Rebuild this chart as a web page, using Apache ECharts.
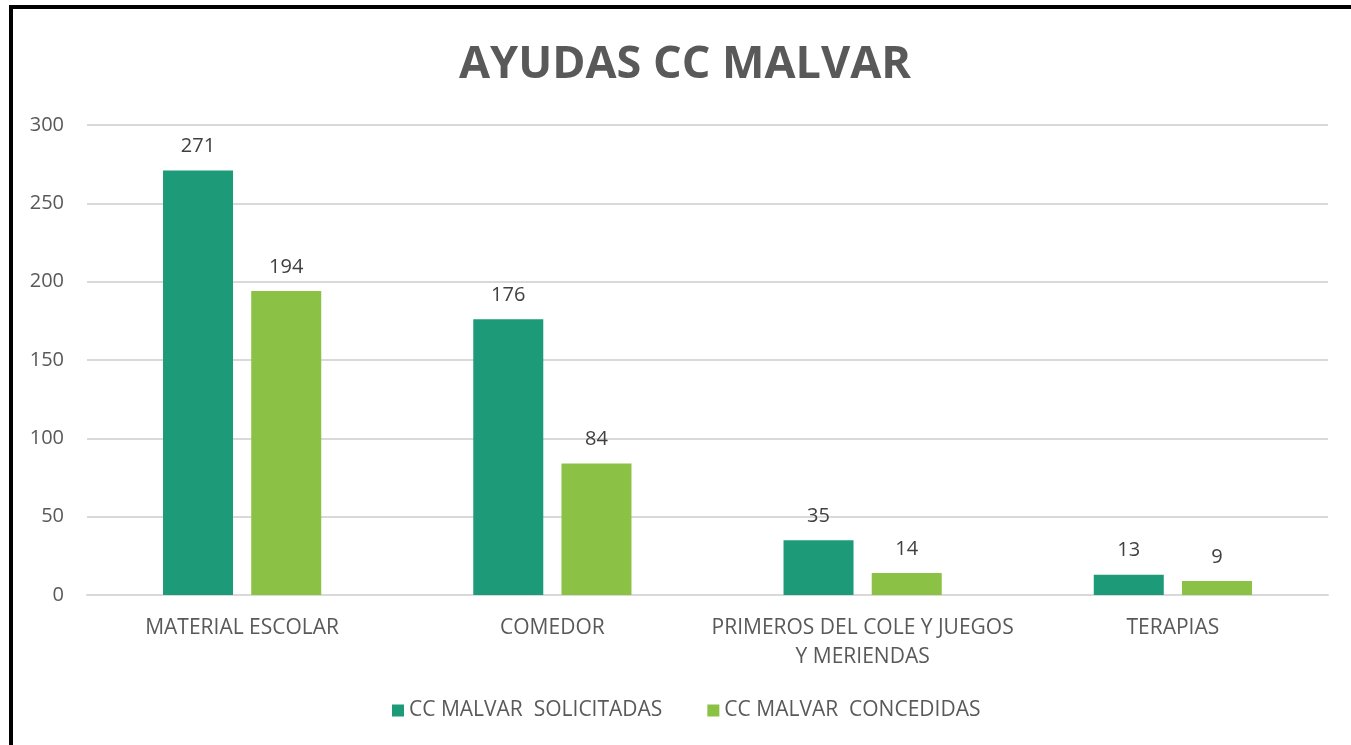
<!DOCTYPE html>
<html>
<head>
<meta charset="utf-8">
<script src="https://cdn.jsdelivr.net/npm/echarts@6/dist/echarts.min.js"></script>
<style>
  html, body { margin: 0; padding: 0; background: #fff; }
  #chart { width: 1351px; height: 745px; }
</style>
</head>
<body>
<div id="chart"></div>
<script>
    // datos de la gráfica
    const categorias = ['MATERIAL ESCOLAR', 'COMEDOR', 'PRIMEROS DEL COLE Y JUEGOS Y MERIENDAS', 'TERAPIAS'];
    const solicitadas = [271, 176, 35, 13];
    const concedidas = [194, 84, 14, 9];
    const nombres = ['CC MALVAR  SOLICITADAS', 'CC MALVAR  CONCEDIDAS'];

    let chart = echarts.init(document.getElementById('chart'));

    const fuente = 'Open Sans';

    let option = {
        textStyle: { fontFamily: fuente },
        // marco negro (solo arriba e izquierda se ven en el original)
        graphic: [{
            type: 'rect',
            shape: { x: 11, y: 7, width: 1400, height: 800 },
            style: { fill: 'none', stroke: '#000', lineWidth: 4 },
            silent: true
        }],
        title: {
            text: 'AYUDAS CC MALVAR',
            left: 454,
            top: 38,
            textStyle: { fontFamily: fuente, fontSize: 45, fontWeight: 'bold', color: '#595959' }
        },
        legend: {
            bottom: 19,
            left: 387,
            itemWidth: 12,
            itemHeight: 12,
            itemGap: 45,
            icon: 'rect',
            textStyle: { fontFamily: fuente, fontSize: 21, color: '#595959' },
            data: nombres
        },
        grid: { left: 87, right: 23, top: 125, bottom: 150 },
        xAxis: {
            type: 'category',
            data: categorias,
            axisLine: { lineStyle: { color: '#d9d9d9', width: 2 } },
            axisTick: { show: false },
            axisLabel: {
                color: '#595959',
                fontSize: 21,
                margin: 19,
                lineHeight: 29,
                interval: 0,
                formatter: function (v) { return v.replace(' Y MERIENDAS', '\nY MERIENDAS'); }
            }
        },
        yAxis: {
            type: 'value',
            min: 0,
            max: 300,
            interval: 50,
            axisLine: { show: false },
            axisTick: { show: false },
            axisLabel: { color: '#595959', fontSize: 20, margin: 23 },
            splitLine: { lineStyle: { color: '#d9d9d9', width: 2 } }
        },
        series: [{
            name: nombres[0],
            type: 'bar',
            data: solicitadas,
            barWidth: 70,
            barGap: '26%',
            itemStyle: { color: '#1d9a78' },
            label: { show: true, position: 'top', distance: 14, color: '#404040', fontSize: 20 }
        }, {
            name: nombres[1],
            type: 'bar',
            data: concedidas,
            barWidth: 70,
            itemStyle: { color: '#8bc145' },
            label: { show: true, position: 'top', distance: 14, color: '#404040', fontSize: 20 }
        }]
    };

    chart.setOption(option);
</script>
</body>
</html>
